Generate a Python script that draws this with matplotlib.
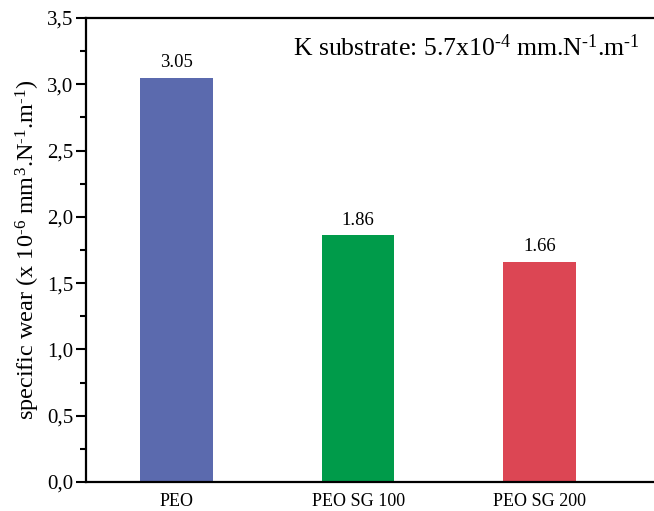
import numpy as np
import matplotlib
matplotlib.use('Agg')
import matplotlib.pyplot as plt
from matplotlib.ticker import MultipleLocator, FuncFormatter

plt.rcParams['font.family'] = 'Liberation Serif'
plt.rcParams['mathtext.fontset'] = 'custom'
plt.rcParams['mathtext.rm'] = 'Liberation Serif'
plt.rcParams['mathtext.it'] = 'Liberation Serif:italic'
plt.rcParams['mathtext.default'] = 'regular'

categories = ['PEO', 'PEO SG 100', 'PEO SG 200']
wear = [3.05, 1.86, 1.66]
bar_colors = ['#5B6AAE', '#009B4A', '#DC4654']

fig = plt.figure(figsize=(6.54, 5.11), dpi=100)
ax = fig.add_axes([0.1315, 0.0568, 0.8685, 0.908])

ind = np.arange(len(categories))
bars = ax.bar(ind, wear, 0.4, color=bar_colors)

for rect, v in zip(bars, wear):
    ax.text(rect.get_x() + rect.get_width() / 2, rect.get_height() + 0.05,
            '%.2f' % v, ha='center', va='bottom', fontsize=13.5)

ax.set_xlim(-0.5, 2.63)
ax.set_ylim(0, 3.5)
ax.set_xticks(ind)
ax.set_xticklabels(categories, fontsize=13)
ax.tick_params(axis='x', length=0, pad=8)

ax.yaxis.set_major_locator(MultipleLocator(0.5))
ax.yaxis.set_minor_locator(MultipleLocator(0.25))
ax.yaxis.set_major_formatter(FuncFormatter(lambda y, p: ('%.1f' % y).replace('.', ',')))
ax.tick_params(axis='y', which='major', direction='out', length=7, width=1.5, labelsize=15, pad=2)
ax.tick_params(axis='y', which='minor', direction='out', length=4, width=1.5)

for s in ['left', 'bottom', 'top']:
    ax.spines[s].set_linewidth(1.6)
ax.spines['right'].set_visible(False)

# short hyphen in the exponents, like the original
hy = '\u2010'
ax.set_ylabel('specific wear (x 10$^{%s6}$ mm$^{3}$.N$^{%s1}$.m$^{%s1}$)' % (hy, hy, hy),
              fontsize=17.5, labelpad=4)

ax.text(0.975, 0.937, 'K substrate: 5.7x10$^{%s4}$ mm.N$^{%s1}$.m$^{%s1}$' % (hy, hy, hy),
        transform=ax.transAxes, ha='right', va='center', fontsize=18.5)

plt.savefig('out.png', dpi=100)
